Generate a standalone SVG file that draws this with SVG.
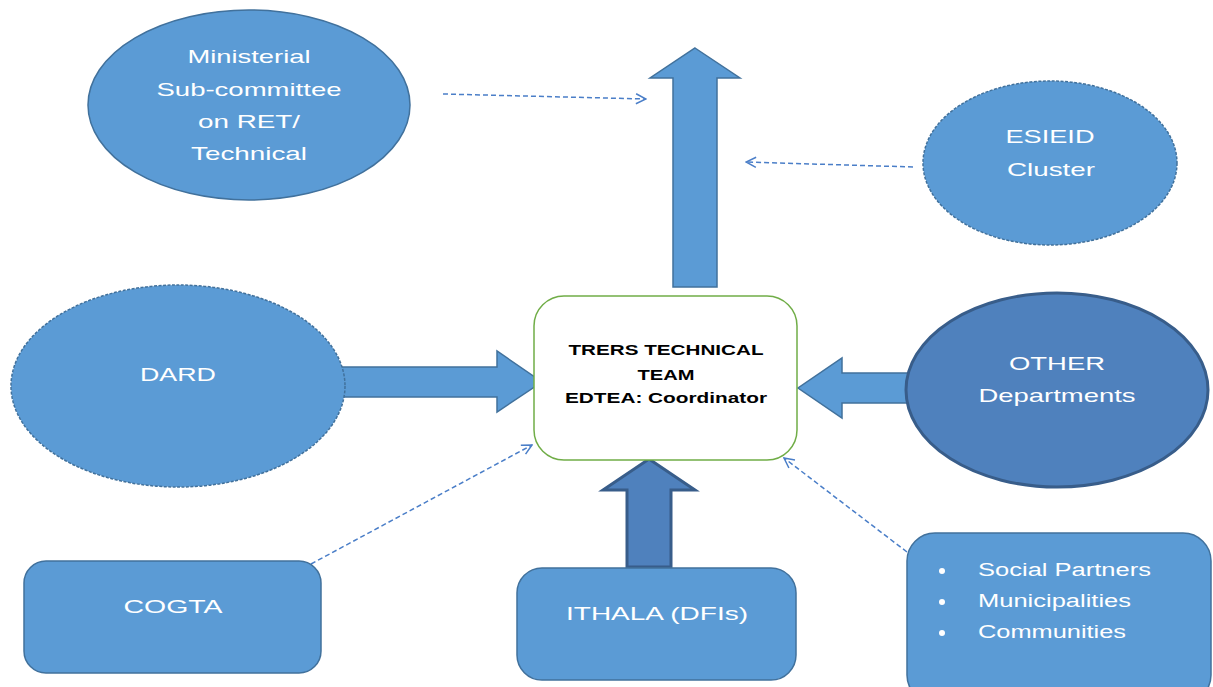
<svg xmlns="http://www.w3.org/2000/svg" width="1213" height="687" viewBox="0 0 1213 687">
<defs>
<style>
.lt{fill:#5b9bd5;stroke:#41719c;stroke-width:1.5}
.dk{fill:#4f81bd;stroke:#385d8a;stroke-width:3}
.dsh{stroke-dasharray:3 1.5}
.wt{font-family:"Liberation Sans",Arial,sans-serif;font-size:19px;fill:#ffffff;text-anchor:middle}
.wl{font-family:"Liberation Sans",Arial,sans-serif;font-size:18px;fill:#ffffff}
.bt{font-family:"Liberation Sans",Arial,sans-serif;font-size:15px;font-weight:bold;fill:#000000;text-anchor:middle}
.con{fill:none;stroke:#4a7ec8;stroke-width:1.5;stroke-dasharray:5 3}
</style>
<marker id="ah" viewBox="0 0 12 12" refX="11" refY="6" markerWidth="12" markerHeight="12" markerUnits="userSpaceOnUse" orient="auto">
<path d="M1,1 L11,6 L1,11" fill="none" stroke="#4a7ec8" stroke-width="1.5"/>
</marker>
</defs>
<rect width="1213" height="687" fill="#ffffff"/>

<g id="connectors">
<polygon class="lt" points="695,48 740,78 717,78 717,287 673,287 673,78 650,78"/>
<polygon class="lt" points="340,367 497,367 497,351 542,382 497,412 497,397 340,397"/>
<polygon class="lt" points="912,373 842,373 842,358 798,388 842,418 842,403 912,403"/>
<polygon class="dk" points="649,459 695,490 671,490 671,567 627,567 627,490 603,490"/>
<line class="con" x1="443" y1="94" x2="646" y2="99" marker-end="url(#ah)"/>
<line class="con" x1="913" y1="167" x2="746" y2="162" marker-end="url(#ah)"/>
<line class="con" x1="311" y1="564" x2="532" y2="445" marker-end="url(#ah)"/>
<line class="con" x1="907" y1="552" x2="784" y2="458" marker-end="url(#ah)"/>
</g>

<g id="ministerial">
<ellipse class="lt" cx="249" cy="105" rx="161" ry="95"/>
<text class="wt" x="249" y="63" textLength="123" lengthAdjust="spacingAndGlyphs">Ministerial</text>
<text class="wt" x="249" y="96" textLength="185" lengthAdjust="spacingAndGlyphs">Sub-committee</text>
<text class="wt" x="249" y="128" textLength="102" lengthAdjust="spacingAndGlyphs">on RET/</text>
<text class="wt" x="249" y="160" textLength="116" lengthAdjust="spacingAndGlyphs">Technical</text>
</g>

<g id="esieid">
<ellipse class="lt dsh" cx="1050" cy="163" rx="127" ry="82"/>
<text class="wt" x="1050" y="143" textLength="89" lengthAdjust="spacingAndGlyphs">ESIEID</text>
<text class="wt" x="1051" y="176" textLength="88" lengthAdjust="spacingAndGlyphs">Cluster</text>
</g>

<g id="dard">
<ellipse class="lt dsh" cx="178" cy="386" rx="167" ry="101"/>
<text class="wt" x="178" y="381" textLength="76" lengthAdjust="spacingAndGlyphs">DARD</text>
</g>

<g id="other">
<ellipse class="dk" cx="1057" cy="390" rx="151" ry="97"/>
<text class="wt" x="1057" y="370" textLength="96" lengthAdjust="spacingAndGlyphs">OTHER</text>
<text class="wt" x="1057" y="402" textLength="157" lengthAdjust="spacingAndGlyphs">Departments</text>
</g>

<g id="trers">
<rect x="534" y="296" width="263" height="164" rx="30" ry="30" fill="#ffffff" stroke="#70ad47" stroke-width="1.5"/>
<text class="bt" x="666" y="355" textLength="195" lengthAdjust="spacingAndGlyphs">TRERS TECHNICAL</text>
<text class="bt" x="666" y="380" textLength="57" lengthAdjust="spacingAndGlyphs">TEAM</text>
<text class="bt" x="666" y="403" textLength="202" lengthAdjust="spacingAndGlyphs">EDTEA: Coordinator</text>
</g>

<g id="cogta">
<rect class="lt" x="24" y="561" width="297" height="112" rx="22" ry="22"/>
<text class="wt" x="173" y="613" textLength="99" lengthAdjust="spacingAndGlyphs">COGTA</text>
</g>

<g id="ithala">
<rect class="lt" x="517" y="568" width="279" height="112" rx="25" ry="25"/>
<text class="wt" x="657" y="620" textLength="182" lengthAdjust="spacingAndGlyphs">ITHALA (DFIs)</text>
</g>

<g id="social">
<rect class="lt" x="907" y="533" width="304" height="170" rx="28" ry="28"/>
<circle cx="942" cy="571" r="3" fill="#ffffff"/>
<circle cx="942" cy="602" r="3" fill="#ffffff"/>
<circle cx="942" cy="633" r="3" fill="#ffffff"/>
<text class="wl" x="978" y="576" textLength="173" lengthAdjust="spacingAndGlyphs">Social Partners</text>
<text class="wl" x="978" y="607" textLength="153" lengthAdjust="spacingAndGlyphs">Municipalities</text>
<text class="wl" x="978" y="638" textLength="148" lengthAdjust="spacingAndGlyphs">Communities</text>
</g>
</svg>
